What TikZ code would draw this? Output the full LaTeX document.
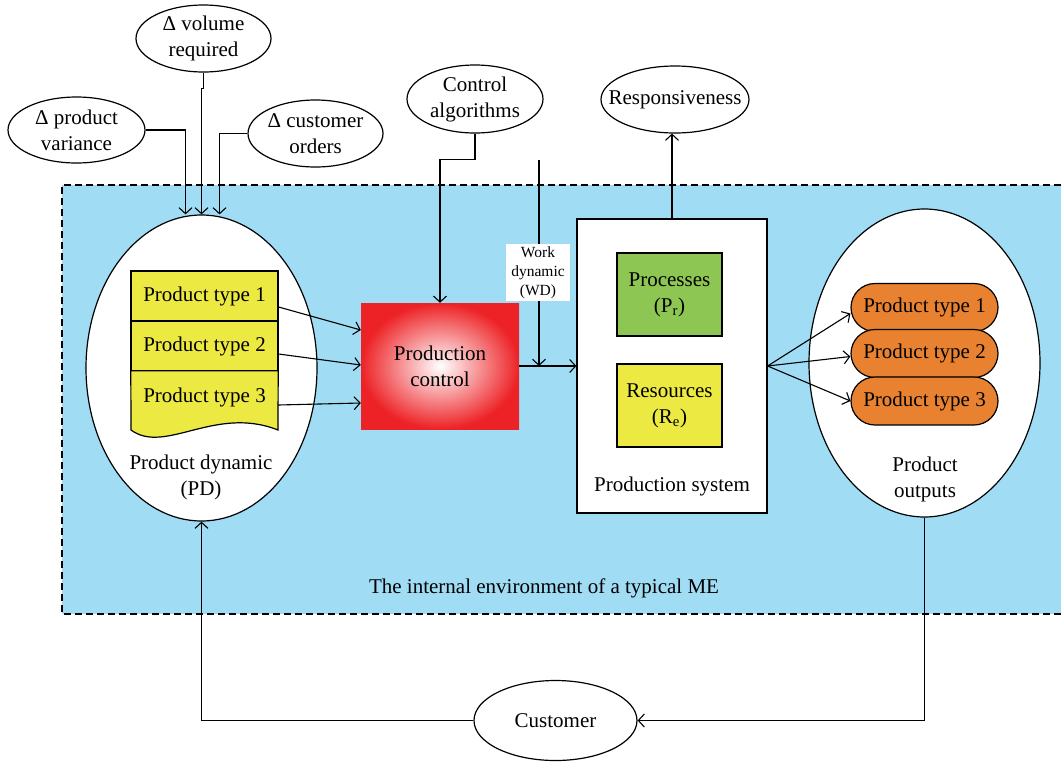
\documentclass[tikz,border=0pt]{standalone}
\usepackage{fontspec}
\setmainfont{Liberation Serif}
\usetikzlibrary{arrows.meta,shapes.geometric,calc}
\definecolor{envblue}{RGB}{160,221,245}
\definecolor{ctrlred}{RGB}{237,34,38}
\definecolor{procgreen}{RGB}{141,198,82}
\definecolor{prodyellow}{RGB}{236,233,66}
\definecolor{pillorange}{RGB}{232,130,48}
\begin{document}
\begin{tikzpicture}[x=1pt,y=-1pt,
  txt/.style={font=\fontsize{21}{26}\selectfont, align=center, inner sep=0pt},
  ell/.style={ellipse, draw, fill=white, line width=1.2pt, inner sep=0pt},
  box/.style={rectangle, draw, line width=1.2pt, inner sep=0pt, font=\fontsize{21}{26}\selectfont, align=center},
  pill/.style={rectangle, rounded corners=24pt, draw, line width=1.2pt, fill=pillorange, minimum width=147pt, minimum height=48pt, inner sep=0pt, font=\fontsize{21}{26}\selectfont},
  conn/.style={line width=1.1pt},
  arr/.style={line width=1.1pt, -{Straight Barb[length=6pt,width=13pt]}},
  envline/.style={line width=1.2pt, dash pattern=on 7pt off 4pt}]
\useasboundingbox (0,0) rectangle (1061,761);
% environment
\fill[envblue] (62,185) rectangle (1061,614);
\draw[envline] (1061,185) -- (62,185) -- (62,614) -- (1061,614);
\node[txt] (envlabel) at (544,588) {The internal environment of a typical ME};

% outer ellipses
\node[ell, minimum width=137pt, minimum height=66pt] (pv) at (76.5,130) {};
\node[txt] (pvt) at (pv) {Δ product\\variance};
\node[ell, minimum width=135pt, minimum height=67pt] (vr) at (203.5,38.5) {};
\node[txt] (vrt) at (vr) {Δ volume\\required};
\node[ell, minimum width=135pt, minimum height=67pt] (co) at (315.5,133.5) {};
\node[txt] (cot) at (co) {Δ customer\\orders};
\node[ell, minimum width=136pt, minimum height=68pt] (ca) at (475,99) {};
\node[txt] (cat) at (ca) {Control\\algorithms};
\node[ell, minimum width=148pt, minimum height=67pt] (resp) at (675,99.5) {};
\node[txt] (respt) at (resp) {Responsiveness};
\node[ell, minimum width=163pt, minimum height=80pt] (cust) at (555.5,720.5) {};
\node[txt] (custt) at (cust) {Customer};

% product dynamic
\node[ell, minimum width=231pt, minimum height=306pt] (pd) at (201.5,368) {};
\node[box, fill=prodyellow, minimum width=147pt, minimum height=50pt] (pt1) at (204.5,296) {Product type 1};
\node[box, fill=prodyellow, minimum width=147pt, minimum height=50pt] (pt2) at (204.5,346) {Product type 2};
\node[rectangle, inner sep=0pt, minimum width=147pt, minimum height=52pt] (pt3) at (204.5,397) {};
\draw[line width=1.2pt, fill=prodyellow] (pt3.north west) -- (pt3.north east) -- (278,430) .. controls (215,405) and (165,455) .. (131,430) -- cycle;
\node[txt] (pt3t) at (pt3) {Product type 3};
\node[txt] (pdt) at (201,477) {Product dynamic\\(PD)};

% production control
\node[rectangle, minimum width=158pt, minimum height=126pt, inner color=white, outer color=ctrlred, inner sep=0pt] (ctrl) at (440,366) {};
\node[txt] (ctrlt) at (ctrl) {Production\\control};

% production system
\node[box, fill=white, minimum width=190pt, minimum height=294pt] (sys) at (672,366) {};
\node[box, fill=procgreen, minimum width=105pt, minimum height=83pt] (proc) at (669.5,294.5) {Processes\\(P\textsubscript{r})};
\node[box, fill=prodyellow, minimum width=105pt, minimum height=83pt] (res) at (669.5,405.5) {Resources\\(R\textsubscript{e})};
\node[txt] (syst) at (672,486) {Production system};

% product outputs
\node[ell, minimum width=231pt, minimum height=308pt] (po) at (924.5,363) {};
\node[pill] (op1) at (924.5,307.5) {Product type 1};
\node[pill] (op2) at (924.5,353.5) {Product type 2};
\node[pill] (op3) at (924.5,401) {Product type 3};
\node[txt] (pot) at (925,479) {Product\\outputs};

% connectors
\draw[arr] (pv.east) -| ($(pd.north)+(-16,0)$);
\draw[arr] (vr.south) -- ++(0,16) -| (pd.north);
\draw[arr] (co.west) -| ($(pd.north)+(18,0)$);
\draw[arr] (ca.south) -- ++(0,26) -| (ctrl.north);
\draw[arr] ($(pt1.east)+(0,11)$) -- ($(ctrl.west)+(0,-36)$);
\draw[arr] ($(pt2.east)+(0,8)$) -- ($(ctrl.west)+(0,-1)$);
\draw[arr] ($(pt3.east)+(0,8)$) -- ($(ctrl.west)+(0,37)$);
\draw[arr] (ctrl.east) -- (sys.west);
\coordinate (wdtop) at (539,160);
\draw[arr] (wdtop) -- (wdtop |- ctrl.east);
\node[rectangle, fill=white, inner sep=2pt, minimum width=64pt, minimum height=57pt, align=center, font=\fontsize{15.5}{19}\selectfont] (wd) at (538,272.5) {Work\\dynamic\\(WD)};
\draw[arr] (sys.north) -- (sys.north |- resp.south);
\draw[arr] (sys.east) -- ($(op1.west)+(0,6)$);
\draw[arr] (sys.east) -- ($(op2.west)+(0,3)$);
\draw[arr] (sys.east) -- (op3.west);
\draw[arr] (po.south) |- (cust.east);
\draw[arr] (cust.west) -| (pd.south);
\end{tikzpicture}
\end{document}
